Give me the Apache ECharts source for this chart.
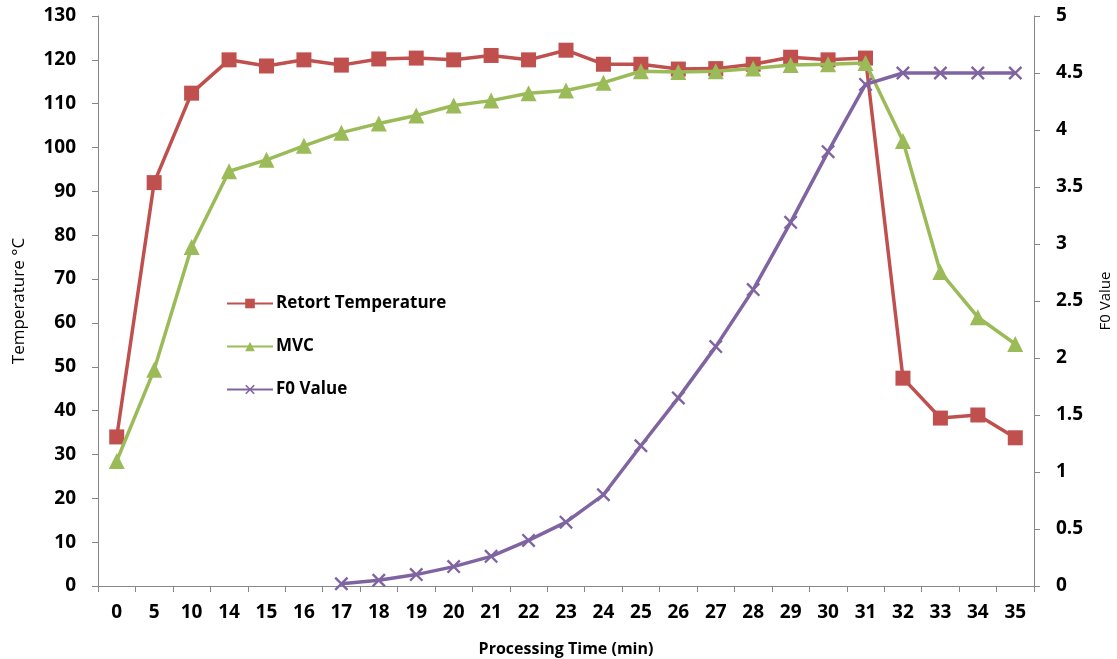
<!DOCTYPE html>
<html>
<head>
<meta charset="utf-8">
<script src="https://cdn.jsdelivr.net/npm/echarts@6/dist/echarts.min.js"></script>
<style>
  html, body { margin: 0; padding: 0; background: #fff; }
  #chart { width: 1117px; height: 659px; }
</style>
</head>
<body>
<div id="chart"></div>
<script>
// Processing time points (min)
const times = ['0', '5', '10', '14', '15', '16', '17', '18', '19', '20', '21', '22', '23', '24',
               '25', '26', '27', '28', '29', '30', '31', '32', '33', '34', '35'];

// Retort temperature (°C)
const retortTemp = [34, 92, 112.4, 120, 118.6, 120, 118.8, 120.2, 120.4, 120, 121, 120, 122.2, 119,
                    119, 117.9, 118, 119, 120.6, 120, 120.4, 47.4, 38.3, 39, 33.8];

// MVC temperature (°C)
const mvcTemp = [28.5, 49.3, 77.3, 94.6, 97.2, 100.4, 103.4, 105.5, 107.3, 109.6, 110.7, 112.4, 113, 114.8,
                 117.4, 117.2, 117.4, 118, 118.8, 119, 119.3, 101.5, 71.6, 61.3, 55.2];

// F0 value (min), accumulated from 17 min onward
const f0Value = [null, null, null, null, null, null, 0.02, 0.05, 0.1, 0.17, 0.26, 0.4, 0.56, 0.8,
                 1.23, 1.65, 2.1, 2.6, 3.19, 3.81, 4.4, 4.5, 4.5, 4.5, 4.5];

const axisGrey = '#868686';
const font = '"Open Sans", "Liberation Sans", sans-serif';
const crossPath = 'path://M0,1.2L1.2,0L10,8.8L8.8,10Z M8.8,0L10,1.2L1.2,10L0,8.8Z';

const tickLabel = { fontFamily: font, fontSize: 19, fontWeight: 'bold', color: '#000' };

const chart = echarts.init(document.getElementById('chart'), null, { renderer: 'canvas' });

chart.setOption({
  animation: false,
  backgroundColor: '#fff',
  textStyle: { fontFamily: font },
  grid: { left: 98, right: 83, top: 16, bottom: 73, containLabel: false, outerBoundsMode: 'none' },
  legend: {
    orient: 'vertical',
    left: 221,
    top: 290,
    itemGap: 26,
    itemWidth: 46,
    itemHeight: 12,
    textStyle: { fontFamily: font, fontSize: 17, fontWeight: 'bold', color: '#000', padding: [0, 0, 0, -2] },
    data: ['Retort Temperature', 'MVC', 'F0 Value']
  },
  xAxis: {
    type: 'category',
    data: times,
    boundaryGap: true,
    name: 'Processing Time (min)',
    nameLocation: 'middle',
    nameGap: 55,
    nameTextStyle: { fontFamily: font, fontSize: 16, fontWeight: 'bold', color: '#000' },
    axisLine: { lineStyle: { color: axisGrey, width: 1 } },
    axisTick: { show: true, length: 6, lineStyle: { color: axisGrey } },
    axisLabel: Object.assign({ margin: 17, interval: 0 }, tickLabel),
    splitLine: { show: false }
  },
  yAxis: [
    {
      type: 'value',
      min: 0, max: 130, interval: 10,
      position: 'left',
      name: 'Temperature °C',
      nameLocation: 'middle',
      nameRotate: 90,
      nameGap: 70,
      nameTextStyle: { fontFamily: font, fontSize: 17, color: '#000' },
      axisLine: { show: true, lineStyle: { color: axisGrey } },
      axisTick: { show: true, length: 6, lineStyle: { color: axisGrey } },
      axisLabel: Object.assign({ margin: 22 }, tickLabel),
      splitLine: { show: false }
    },
    {
      type: 'value',
      min: 0, max: 5, interval: 0.5,
      position: 'right',
      name: 'F0 Value',
      nameLocation: 'middle',
      nameRotate: 90,
      nameGap: 64,
      nameTextStyle: { fontFamily: font, fontSize: 15, color: '#000' },
      axisLine: { show: true, lineStyle: { color: axisGrey } },
      axisTick: { show: true, length: 6, lineStyle: { color: axisGrey } },
      axisLabel: Object.assign({ margin: 22 }, tickLabel),
      splitLine: { show: false }
    }
  ],
  series: [
    {
      name: 'Retort Temperature',
      type: 'line',
      yAxisIndex: 0,
      data: retortTemp,
      symbol: 'rect',
      symbolSize: 15,
      lineStyle: { color: '#C0504D', width: 3.5 },
      itemStyle: { color: '#C0504D' },
      z: 3
    },
    {
      name: 'MVC',
      type: 'line',
      yAxisIndex: 0,
      data: mvcTemp,
      symbol: 'triangle',
      symbolSize: 16,
      lineStyle: { color: '#9BBB59', width: 3.5 },
      itemStyle: { color: '#9BBB59' },
      z: 4
    },
    {
      name: 'F0 Value',
      type: 'line',
      yAxisIndex: 1,
      data: f0Value,
      connectNulls: false,
      symbol: crossPath,
      symbolSize: 14,
      lineStyle: { color: '#8064A2', width: 3.5 },
      itemStyle: { color: '#8064A2' },
      z: 5
    }
  ]
});
</script>
</body>
</html>
